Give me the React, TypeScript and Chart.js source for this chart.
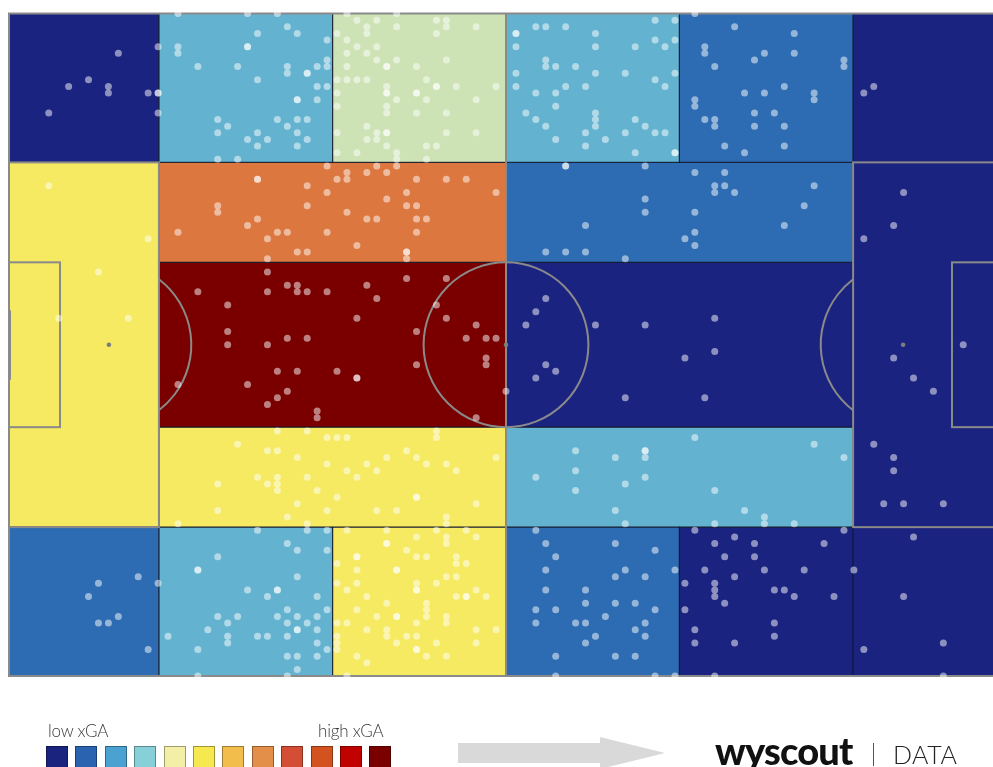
import React, { useEffect, useRef } from "react";
import { Chart, registerables } from "chart.js";
Chart.register(...registerables);

// ---- data (Wyscout pitch coordinates, 0..100 on both axes) ----
const ZONE_X0 = [0, 15.08, 32.56, 50, 67.44, 84.92, 0, 15.08, 15.08, 15.08, 50, 50, 50, 84.92, 0, 15.08, 32.56, 50, 67.44, 84.92];
const ZONE_X1 = [15.08, 32.56, 50, 67.44, 84.92, 100, 15.08, 50, 50, 50, 84.92, 84.92, 84.92, 100, 15.08, 32.56, 50, 67.44, 84.92, 100];
const ZONE_Y0 = [0, 0, 0, 0, 0, 0, 22.47, 22.47, 37.56, 62.44, 22.47, 37.56, 62.44, 22.47, 77.53, 77.53, 77.53, 77.53, 77.53, 77.53];
const ZONE_Y1 = [22.47, 22.47, 22.47, 22.47, 22.47, 22.47, 77.53, 37.56, 62.44, 77.53, 37.56, 62.44, 77.53, 77.53, 100, 100, 100, 100, 100, 100];
// xGA class of each zone (0 = lowest … 6 = highest)
const ZONE_CLASS = [0, 2, 3, 2, 1, 0, 4, 5, 6, 4, 1, 0, 2, 0, 1, 2, 4, 1, 0, 0];

const LEGEND_LOW = "low xGA";
const LEGEND_HIGH = "high xGA";

const SHOTS_X = [
  11, 8, 6, 10, 10, 14, 4, 15, 15, 15, 15,
  17, 24, 27, 28, 25, 29, 17, 17, 24, 24, 32, 19, 23, 28, 28, 30, 30, 31, 32, 32, 25, 31, 32, 29, 29, 31, 21, 22, 21, 27, 29, 30, 28, 25, 29, 24, 26, 30, 25, 29, 21, 23,
  34, 39, 35, 37, 36, 36, 39, 43, 44, 44, 47, 43, 33, 34, 35, 37, 34, 36, 37, 39, 44, 34, 38, 38, 41, 33, 34, 35, 36, 42, 33, 38, 38, 38, 41, 41, 43, 43, 45, 49, 39, 42, 47, 33, 38, 38, 41, 44, 36, 33, 37, 38, 38, 44, 47, 36, 37, 38, 42, 43, 33, 35, 39, 39, 42,
  32, 34, 37, 39, 38, 33, 34, 36, 25, 25, 41, 44, 46, 30, 32, 40, 49, 38, 21, 21, 30, 40, 41, 34, 25, 24, 36, 37, 41, 42, 17, 27, 28, 32, 41, 26, 35, 29, 30, 40, 40, 40, 26,
  56, 56, 64, 69, 72, 71, 71, 72, 73, 81, 64, 64, 69, 80, 58, 78, 69, 68, 69, 54, 56, 58, 62,
  90, 89, 86, 96, 89, 91, 93, 87, 89, 89, 88, 90, 94, 86, 87,
  26, 19, 26, 28, 29, 29, 30, 32, 36, 37, 40, 44, 22, 35, 43, 44, 47, 22, 22, 26, 28, 30, 41, 46, 48, 49, 48, 48, 41, 27, 29, 33, 35, 35, 17, 24, 28, 27, 26, 31, 31, 47, 50,
  54, 53, 52, 59, 54, 55, 53, 64, 71, 71, 68, 62, 70,
  4, 14, 9, 5, 12,
  43, 27, 30, 32, 33, 34, 43, 23, 26, 27, 29, 38, 40, 41, 49, 32, 36, 42, 44, 34, 37, 45, 25, 27, 27, 27, 21, 26, 30, 35, 31, 33, 41, 41, 29, 47, 21, 32, 37, 39, 28, 44, 44, 17, 30,
  69, 81, 84, 57, 61, 64, 64, 64, 53, 57, 64, 62, 57, 71, 61, 74, 76, 76, 62, 71, 79,
  13, 9, 15, 8, 11, 9, 10, 14, 16,
  25, 30, 32, 28, 29, 32, 21, 19, 19, 29, 24, 26, 27, 27, 31, 32, 28, 21, 23, 22, 27, 29, 28, 30, 31, 20, 29, 29, 31, 22, 22, 25, 26, 28, 31, 19, 32, 28, 29, 31, 29, 19, 28,
  34, 38, 43, 46, 41, 44, 44, 47, 38, 38, 40, 35, 35, 41, 42, 45, 45, 46, 33, 35, 39, 39, 44, 45, 33, 35, 41, 41, 41, 43, 34, 47, 36, 45, 46, 46, 48, 38, 42, 42, 42, 35, 37, 39, 39, 44, 44, 33, 34, 41, 36, 38, 38, 33, 33, 33, 40, 41, 47, 49, 39, 43, 47, 41, 41, 35, 42, 44, 36, 34,
  53, 54, 61, 65, 55, 54, 62, 61, 64, 67, 54, 58, 58, 61, 63, 53, 55, 65, 60, 53, 57, 58, 64, 63, 59, 64, 58, 55, 61, 63, 55, 65, 67,
  69, 73, 84, 71, 75, 82, 72, 75, 70, 76, 80, 85, 73, 68, 71, 71, 71, 77, 78, 79, 83, 72, 68, 77, 69, 77, 69, 73, 71, 91, 86, 90, 94, 94,
  51, 51, 53, 54, 56, 59, 65, 67, 51, 59, 63, 65, 66, 67, 54, 54, 55, 57, 51, 59, 62, 67, 65, 51, 56, 58, 66, 53, 55, 55, 52, 59, 59, 59, 53, 54, 63, 64, 58, 62, 65, 66, 55, 60, 58, 63, 67, 67,
  69, 73, 79, 70, 70, 76, 79, 75, 71, 84, 84, 74, 76, 78, 81, 81, 69, 69, 70, 71, 71, 75, 77, 75, 78, 72, 74, 78,
];
const SHOTS_Y = [
  6, 10, 11, 11, 12, 12, 15, 5, 12, 12, 15,
  0, 0, 0, 2, 3, 3, 5, 6, 5, 5, 4, 8, 8, 8, 9, 9, 9, 8, 7, 8, 10, 11, 11, 13, 13, 13, 16, 17, 18, 16, 16, 16, 17, 18, 18, 19, 19, 19, 20, 20, 22, 22,
  0, 0, 1, 1, 2, 3, 2, 1, 1, 2, 2, 3, 3, 4, 5, 5, 6, 6, 7, 7, 7, 8, 8, 8, 8, 10, 10, 10, 10, 10, 12, 11, 12, 12, 12, 12, 11, 11, 11, 11, 13, 13, 13, 14, 14, 15, 15, 15, 17, 18, 18, 18, 18, 18, 18, 19, 19, 20, 20, 20, 21, 21, 21, 22, 22,
  23, 24, 23, 23, 24, 25, 25, 24, 25, 25, 25, 25, 25, 26, 27, 27, 27, 28, 29, 30, 29, 29, 29, 30, 31, 32, 31, 31, 31, 31, 33, 33, 33, 33, 33, 34, 35, 36, 36, 36, 36, 37, 37,
  23, 23, 23, 24, 24, 26, 27, 26, 27, 26, 28, 30, 30, 29, 32, 32, 33, 34, 35, 36, 36, 36, 37,
  27, 32, 34, 50, 52, 55, 57, 65, 67, 69, 74, 74, 74, 12, 11,
  39, 42, 42, 41, 41, 42, 42, 42, 41, 43, 40, 40, 44, 46, 44, 46, 47, 48, 50, 50, 49, 49, 48, 49, 49, 49, 52, 53, 53, 54, 54, 54, 55, 55, 56, 56, 57, 58, 59, 60, 61, 61, 57,
  43, 45, 47, 47, 53, 54, 55, 47, 46, 51, 52, 58, 58,
  26, 34, 39, 46, 46,
  63, 63, 63, 64, 64, 64, 64, 65, 66, 66, 67, 67, 66, 67, 67, 68, 68, 68, 68, 69, 69, 69, 70, 70, 71, 72, 71, 71, 70, 70, 72, 73, 73, 73, 74, 74, 75, 75, 75, 75, 76, 76, 77, 77, 77,
  64, 65, 67, 66, 67, 66, 66, 67, 70, 69, 70, 71, 72, 72, 75, 75, 76, 77, 77, 77, 77,
  85, 86, 86, 88, 91, 92, 92, 96, 94,
  78, 78, 78, 80, 81, 81, 82, 84, 84, 85, 87, 88, 87, 87, 88, 90, 90, 91, 91, 92, 91, 91, 92, 92, 91, 93, 93, 93, 93, 94, 95, 94, 94, 94, 95, 96, 96, 97, 97, 97, 99, 100, 100,
  78, 78, 78, 78, 79, 79, 80, 79, 80, 80, 81, 82, 82, 82, 82, 82, 83, 83, 83, 84, 84, 84, 85, 85, 86, 86, 86, 87, 87, 86, 87, 87, 88, 88, 88, 88, 88, 89, 89, 90, 91, 90, 91, 91, 91, 91, 92, 92, 92, 92, 93, 93, 94, 94, 95, 96, 94, 94, 93, 93, 95, 95, 95, 96, 96, 97, 97, 97, 98, 100,
  78, 80, 80, 81, 82, 84, 84, 85, 85, 84, 87, 87, 89, 89, 89, 90, 90, 90, 91, 92, 92, 92, 92, 93, 94, 94, 95, 97, 97, 97, 100, 100, 100,
  78, 79, 78, 80, 80, 80, 82, 82, 84, 84, 84, 84, 85, 86, 86, 87, 88, 87, 87, 88, 88, 89, 90, 92, 93, 94, 95, 95, 100, 79, 96, 88, 95, 100,
  3, 3, 2, 2, 2, 3, 1, 1, 5, 5, 5, 4, 5, 4, 7, 8, 8, 8, 9, 9, 9, 9, 10, 11, 11, 11, 11, 12, 12, 14, 15, 15, 16, 17, 16, 17, 16, 17, 18, 18, 18, 18, 19, 19, 20, 21, 21, 21,
  0, 2, 3, 5, 6, 6, 6, 7, 8, 7, 8, 12, 12, 11, 12, 13, 13, 14, 16, 16, 17, 15, 15, 17, 17, 20, 21, 20,
];

// ---- styles ----
const ZONE_PALETTE = ["#1b2380", "#2d6cb2", "#63b3d0", "#cde3b5", "#f5ea62", "#dc773f", "#7a0000"];
const LEGEND_PALETTE = ["#1a237e", "#2a63b0", "#49a2d0", "#87d0d7", "#f3efa6", "#f6e94f", "#f3bd4b", "#e38f4a", "#d44d35", "#d2531f", "#c10000", "#7a0000"];
const LINE = "#8a8a8a";

const pitchPlugin = {
  id: "pitch",
  beforeDatasetsDraw(chart: any) {
    const { ctx } = chart;
    const xs = chart.scales.x;
    const ys = chart.scales.y;
    const px = (v: number) => xs.getPixelForValue(v);
    const py = (v: number) => ys.getPixelForValue(v);
    ctx.save();
    // zones
    for (let i = 0; i < ZONE_X0.length; i++) {
      const x0 = px(ZONE_X0[i]);
      const x1 = px(ZONE_X1[i]);
      const y0 = py(ZONE_Y0[i]);
      const y1 = py(ZONE_Y1[i]);
      ctx.fillStyle = ZONE_PALETTE[ZONE_CLASS[i]];
      ctx.fillRect(x0, y0, x1 - x0, y1 - y0);
    }
    ctx.strokeStyle = "rgba(15,20,40,0.75)";
    ctx.lineWidth = 1;
    for (let i = 0; i < ZONE_X0.length; i++) {
      const x0 = px(ZONE_X0[i]);
      const x1 = px(ZONE_X1[i]);
      const y0 = py(ZONE_Y0[i]);
      const y1 = py(ZONE_Y1[i]);
      ctx.strokeRect(x0, y0, x1 - x0, y1 - y0);
    }
    // pitch markings
    ctx.strokeStyle = LINE;
    ctx.lineWidth = 2;
    const L = px(0), R = px(100), T = py(0), B = py(100);
    ctx.strokeRect(L, T, R - L, B - T);
    ctx.beginPath();
    ctx.moveTo(px(50), T);
    ctx.lineTo(px(50), B);
    ctx.stroke();
    const r = px(50 + 8.29) - px(50);
    ctx.beginPath();
    ctx.arc(px(50), py(50), r, 0, Math.PI * 2);
    ctx.stroke();
    // penalty areas and goal areas
    ctx.strokeRect(L, py(22.47), px(15.08) - L, py(77.53) - py(22.47));
    ctx.strokeRect(px(84.92), py(22.47), R - px(84.92), py(77.53) - py(22.47));
    ctx.strokeRect(L, py(37.56), px(5.13) - L, py(62.44) - py(37.56));
    ctx.strokeRect(px(94.87), py(37.56), R - px(94.87), py(62.44) - py(37.56));
    // penalty arcs
    const a = Math.acos((px(15.08) - px(10.05)) / r);
    ctx.beginPath();
    ctx.arc(px(10.05), py(50), r, -a, a);
    ctx.stroke();
    ctx.beginPath();
    ctx.arc(px(89.95), py(50), r, Math.PI - a, Math.PI + a);
    ctx.stroke();
    // goals
    ctx.lineWidth = 4;
    ctx.beginPath();
    ctx.moveTo(L, py(44.8));
    ctx.lineTo(L, py(55.3));
    ctx.moveTo(R, py(44.8));
    ctx.lineTo(R, py(55.3));
    ctx.stroke();
    // spots
    ctx.fillStyle = "#7d7d7d";
    [[50, 50], [10.05, 50], [89.95, 50]].forEach(([sx, sy]) => {
      ctx.beginPath();
      ctx.arc(px(sx), py(sy), 2.3, 0, Math.PI * 2);
      ctx.fill();
    });
    ctx.restore();
  },
};

export default function App() {
  const ref = useRef<HTMLCanvasElement | null>(null);
  useEffect(() => {
    if (!ref.current) return;
    const chart = new Chart(ref.current, {
      type: "scatter",
      data: {
        datasets: [
          {
            data: SHOTS_X.map((x, i) => ({ x, y: SHOTS_Y[i] })),
            pointRadius: 3.5,
            pointBackgroundColor: "rgba(255,255,255,0.5)",
            pointBorderWidth: 0,
            pointHoverRadius: 3.5,
            clip: false as any,
          },
        ],
      },
      options: {
        responsive: false,
        maintainAspectRatio: false,
        animation: false,
        events: [],
        layout: { autoPadding: false, padding: { left: 1, right: 5, top: 5.5, bottom: 12 } },
        scales: {
          x: { type: "linear", min: 0, max: 100, display: false },
          y: { type: "linear", min: 0, max: 100, reverse: true, display: false },
        },
        plugins: { legend: { display: false }, tooltip: { enabled: false } },
      },
      plugins: [pitchPlugin],
    });
    return () => chart.destroy();
  }, []);

  const labelStyle: React.CSSProperties = {
    position: "absolute",
    top: 714,
    fontFamily: "Lato, 'Open Sans', sans-serif",
    fontWeight: 300,
    fontSize: 17,
    letterSpacing: -0.2,
    color: "#3a3a3a",
    lineHeight: "18px",
    whiteSpace: "nowrap",
  };

  return (
    <div style={{ position: "fixed", left: 8, top: 8, width: 985, height: 759, overflow: "hidden" }}>
      <canvas ref={ref} width={1000} height={680} style={{ position: "absolute", left: 0, top: 0, display: "block" }} />
      <div style={{ ...labelStyle, left: 40 }}>{LEGEND_LOW}</div>
      <div style={{ ...labelStyle, left: 310 }}>{LEGEND_HIGH}</div>
      {LEGEND_PALETTE.map((c, i) => (
        <div
          key={i}
          style={{
            position: "absolute",
            left: 38 + i * 29.4,
            top: 738,
            width: 22,
            height: 26,
            background: c,
            border: "1px solid rgba(0,0,0,0.35)",
            boxSizing: "border-box",
          }}
        />
      ))}
      <div style={{ position: "absolute", left: 450, top: 735, width: 150, height: 20, background: "#d9d9d9" }} />
      <div
        style={{
          position: "absolute",
          left: 592,
          top: 729,
          width: 0,
          height: 0,
          borderLeft: "65px solid #d9d9d9",
          borderTop: "16px solid transparent",
          borderBottom: "16px solid transparent",
        }}
      />
      <div
        style={{
          position: "absolute",
          left: 707,
          top: 719,
          fontFamily: "Lato, sans-serif",
          fontWeight: 900,
          fontSize: 38,
          letterSpacing: -0.8,
          color: "#111",
          lineHeight: "46px",
          whiteSpace: "nowrap",
        }}
      >
        wyscout
      </div>
      <div style={{ position: "absolute", left: 865, top: 735, width: 1, height: 23, background: "#555" }} />
      <div
        style={{
          position: "absolute",
          left: 885,
          top: 729,
          fontFamily: "Lato, sans-serif",
          fontWeight: 300,
          fontSize: 25,
          letterSpacing: 0.5,
          color: "#222",
          lineHeight: "34px",
          whiteSpace: "nowrap",
        }}
      >
        DATA
      </div>
    </div>
  );
}
